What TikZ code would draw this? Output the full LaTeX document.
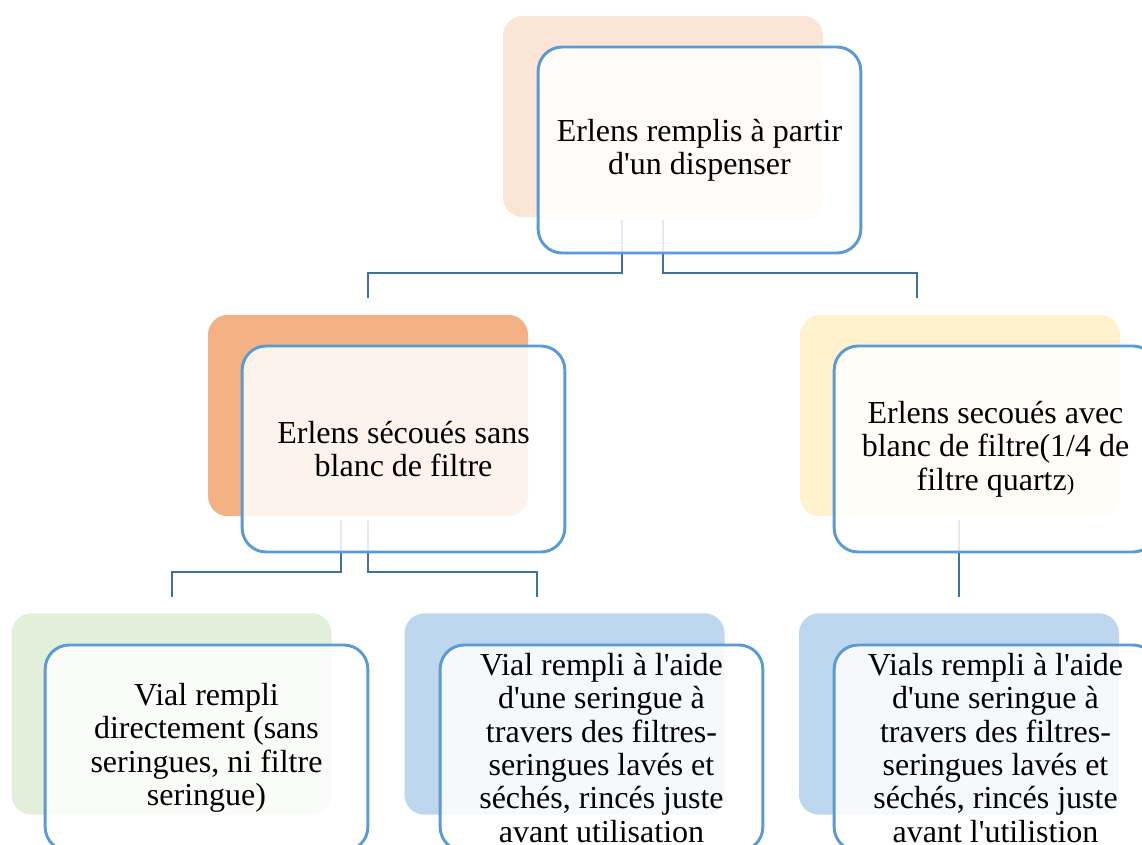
\documentclass[tikz,border=0pt]{standalone}
\usepackage{fontspec}
\newfontfamily\boxfont{Liberation Serif}
\begin{document}
\begin{tikzpicture}[x=0.75pt,y=-0.75pt,
  backbox/.style={draw=none, rounded corners=15pt, inner sep=0pt,
    minimum width=240pt, minimum height=151pt},
  frontbox/.style={draw=frontblue, line width=2.2pt, fill=white, fill opacity=0.86,
    text opacity=1, rounded corners=18pt, inner sep=0pt,
    minimum width=242pt, minimum height=154.5pt, align=center,
    font=\boxfont\fontsize{24}{25}\selectfont},
  conn/.style={draw=connblue, line width=2.2pt}]
\definecolor{frontblue}{HTML}{5B9BD5}
\definecolor{connblue}{HTML}{41719C}
\definecolor{cTop}{HTML}{FBE5D6}
\definecolor{cMidL}{HTML}{F4B183}
\definecolor{cMidR}{HTML}{FFF2CC}
\definecolor{cBotL}{HTML}{E2EFDA}
\definecolor{cBotB}{HTML}{BDD7EE}
\useasboundingbox (0,0) rectangle (1142,845);
\clip (0,0) rectangle (1142,845);
% back rectangles
\node[backbox, fill=cTop]  (bTop)  at (663,116.5) {};
\node[backbox, fill=cMidL] (bMidL) at (368,415.5) {};
\node[backbox, fill=cMidR] (bMidR) at (960,415.5) {};
\node[backbox, fill=cBotL] (bBotL) at (171.5,714) {};
\node[backbox, fill=cBotB] (bBotM) at (564.5,714) {};
\node[backbox, fill=cBotB] (bBotR) at (959,714) {};
% connector points
\coordinate (s1) at (622,220);
\coordinate (s2) at (663,220);
\coordinate (e1) at (368,298);
\coordinate (e2) at (917,298);
\coordinate (s3) at (341,520);
\coordinate (s4) at (368,520);
\coordinate (e3) at (172,597);
\coordinate (e4) at (537,597);
\coordinate (s5) at (959,520);
\coordinate (e5) at (959,597);
\draw[conn] (s1) -- ++(0,53) -| (e1);
\draw[conn] (s2) -- ++(0,53) -| (e2);
\draw[conn] (s3) -- ++(0,52) -| (e3);
\draw[conn] (s4) -- ++(0,52) -| (e4);
\draw[conn] (s5) -- (e5);
% front boxes
\node[frontbox] (fTop) at (699.5,150) {Erlens remplis à partir\\d'un dispenser};
\node[frontbox] (fMidL) at (403.5,449) {Erlens sécoués sans\\blanc de filtre};
\node[frontbox] (fMidR) at (995.5,449) {Erlens secoués avec\\blanc de filtre(1/4 de\\filtre quartz{\fontsize{17}{20}\selectfont )}};
\node[frontbox] (fBotL) at (206.5,748) {Vial rempli\\directement (sans\\seringues, ni filtre\\seringue)};
\node[frontbox] (fBotM) at (601.5,748) {Vial rempli à l'aide\\d'une seringue à\\travers des filtres-\\seringues lavés et\\séchés, rincés juste\\avant utilisation};
\node[frontbox] (fBotR) at (995.5,748) {Vials rempli à l'aide\\d'une seringue à\\travers des filtres-\\seringues lavés et\\séchés, rincés juste\\avant l'utilistion};
\end{tikzpicture}
\end{document}
